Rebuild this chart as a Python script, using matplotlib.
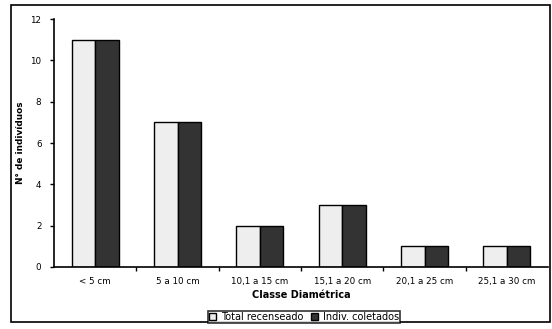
import numpy as np
import matplotlib.pyplot as plt
from matplotlib.patches import Rectangle

plt.rcParams['font.family'] = ['DejaVu Sans']

classes = ['< 5 cm', '5 a 10 cm', '10,1 a 15 cm', '15,1 a 20 cm', '20,1 a 25 cm', '25,1 a 30 cm']
total_recenseado = [11, 7, 2, 3, 1, 1]
indiv_coletados = [11, 7, 2, 3, 1, 1]

fig = plt.figure(figsize=(5.52, 3.29), dpi=100)
ax = fig.add_axes([54/552, 1 - 267/329, (548-54)/552, (267-19)/329])

x = np.arange(len(classes))
w = 0.285
ax.bar(x - w/2, total_recenseado, w, color='#eeeeee', edgecolor='black', linewidth=1, label='Total recenseado')
ax.bar(x + w/2, indiv_coletados, w, color='#333333', edgecolor='black', linewidth=1, label='Indiv. coletados')

ax.set_xlim(-0.5, len(classes) - 0.5)
ax.set_ylim(0, 12)
ax.set_yticks(range(0, 13, 2))
ax.set_xticks(x)
ax.set_xticklabels(classes, fontsize=6.3)
ax.set_xticks(np.arange(0.5, len(classes) - 0.5, 1), minor=True)
ax.tick_params(axis='x', which='major', length=0, pad=7)
ax.tick_params(axis='x', which='minor', length=3, width=1)
ax.tick_params(axis='y', labelsize=6.3, length=3, width=1, pad=6)
for s in ['top', 'right']:
    ax.spines[s].set_visible(False)
ax.spines['left'].set_linewidth(1.2)
ax.spines['bottom'].set_linewidth(1.2)

ax.set_xlabel('Classe Diamétrica', fontsize=7, fontweight='bold', labelpad=3)
ax.set_ylabel('N° de indivíduos', fontsize=6.4, fontweight='bold')
ax.yaxis.set_label_coords(-0.058, 0.5)

leg = fig.legend(loc='center', bbox_to_anchor=(304/552, 1 - 317/329), ncol=2, fontsize=7,
                 frameon=True, fancybox=False, handlelength=0.7, handleheight=0.7,
                 handletextpad=0.5, columnspacing=0.8, borderpad=0.15, borderaxespad=0)
leg.get_frame().set_edgecolor('black')
leg.get_frame().set_linewidth(1.2)

fig.add_artist(Rectangle((11/552, 1 - 322/329), (550-11)/552, (322-5)/329,
                         transform=fig.transFigure, fill=False, edgecolor='black', linewidth=1.2))

fig.savefig('out.png', dpi=100)
